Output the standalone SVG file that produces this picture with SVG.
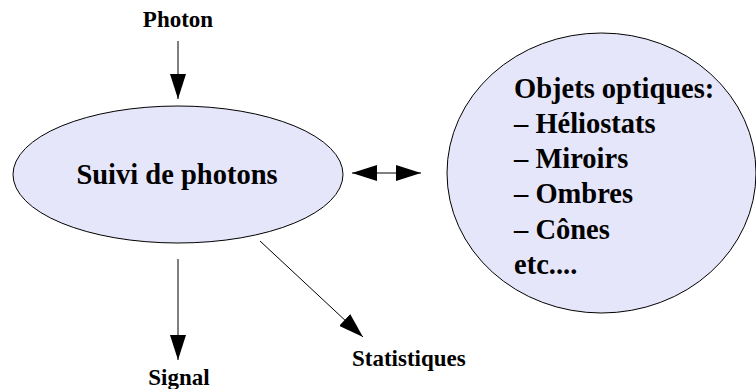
<svg xmlns="http://www.w3.org/2000/svg" width="756" height="389" viewBox="0 0 756 389">
<style>
text{font-family:'Liberation Serif','Times New Roman',Tinos,'DejaVu Serif',serif;font-weight:700;fill:#000}
.n{fill:#e6e6fa;stroke:#000;stroke-width:1}
.c{stroke:#000;stroke-width:1;fill:none}
.s{font-size:23px}
.b{font-size:28.5px}
</style>
<defs>
<marker id="ah" markerUnits="userSpaceOnUse" markerWidth="26" markerHeight="16" refX="25" refY="8" orient="auto-start-reverse" viewBox="0 0 26 16">
<path d="M0,0 L25,8 L0,16 z" fill="#000"/>
</marker>
</defs>
<g id="photon"><text class="s" x="178" y="27" text-anchor="middle">Photon</text></g>
<g id="suivi">
<ellipse class="n" cx="178" cy="174.5" rx="165" ry="68.5"/>
<text class="b" x="177" y="184" text-anchor="middle">Suivi de photons</text>
</g>
<g id="objets">
<ellipse class="n" cx="601.5" cy="173" rx="154.5" ry="140"/>
<text class="b" x="514" y="98">Objets optiques:</text>
<text class="b" x="514" y="133">– Héliostats</text>
<text class="b" x="514" y="168">– Miroirs</text>
<text class="b" x="514" y="203">– Ombres</text>
<text class="b" x="514" y="239">– Cônes</text>
<text class="b" x="514" y="274">etc....</text>
</g>
<g id="signal"><text class="s" x="179" y="385" text-anchor="middle">Signal</text></g>
<g id="statistiques"><text class="s" x="352" y="366">Statistiques</text></g>
<g id="connectors">
<line class="c" x1="178" y1="41" x2="178" y2="99" marker-end="url(#ah)"/>
<line class="c" x1="178" y1="259" x2="178" y2="360" marker-end="url(#ah)"/>
<line class="c" x1="260" y1="241" x2="363" y2="337" marker-end="url(#ah)"/>
<line class="c" x1="352" y1="173" x2="421" y2="173" marker-start="url(#ah)" marker-end="url(#ah)"/>
</g>
</svg>
